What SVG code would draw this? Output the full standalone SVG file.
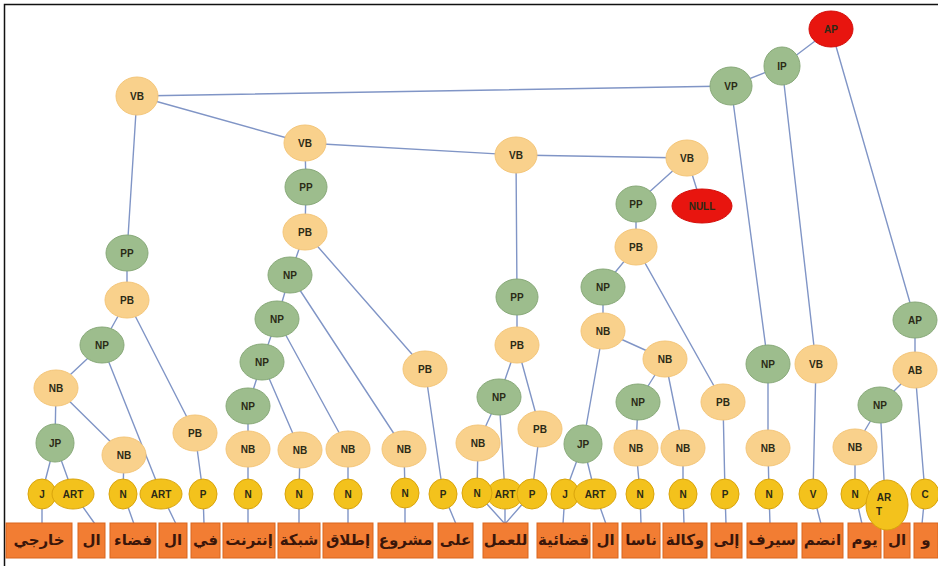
<svg xmlns="http://www.w3.org/2000/svg" width="938" height="572" viewBox="0 0 938 572">
<defs>
<style>
.o{fill:#F9D18C;stroke:#F4C67A;stroke-width:1}
.g{fill:#9DBD8D;stroke:#88A979;stroke-width:1}
.r{fill:#E8150F;stroke:#D40E0A;stroke-width:1}
.y{fill:#F3C21C;stroke:#D9A40C;stroke-width:1}
.t{font-family:"Liberation Sans",Arial,sans-serif;font-weight:bold;font-size:10px;text-anchor:middle;dominant-baseline:central;fill:#2B2A16}
.bx{fill:#F27D33;stroke:#D9661F;stroke-width:1}
.w{font-family:"DejaVu Sans",sans-serif;font-weight:bold;font-size:15px;text-anchor:middle;dominant-baseline:central;fill:#3A160A}
.e{stroke:#8095C6;stroke-width:1.4;fill:none}
</style>
</defs>
<rect width="938" height="572" fill="#FFFFFF"/>
<path d="M4.5 566V4.5H938" stroke="#111" stroke-width="1.5" fill="none"/>

<!-- connectors -->
<g id="connectors" class="e">
<path d="M831 29L782 66M831 29L915 320M782 66L731 86M782 66L816 364M731 86L137 96M731 86L768 364"/>
<path d="M137 96L305 143M137 96L127 253M305 143L516 155M516 155L687 158M516 155L517 297M687 158L636 204M687 158L702 206"/>
<path d="M305 143L306 187L305 232M636 204L636 247"/>
<!-- left branch -->
<path d="M127 253L127 300M127 300L102 345M127 300L195 433M102 345L56 388M102 345L161 493M56 388L55 443M56 388L124 455M55 443L42 493M55 443L73 493M124 455L123 493M195 433L203 493"/>
<!-- middle branch -->
<path d="M305 232L290 275M305 232L425 369M290 275L277 319M290 275L404 449M277 319L262 362M277 319L348 449M262 362L248 406M262 362L300 450M248 406L248 449M248 449L248 493M300 450L299 493M348 449L348 493M404 449L405 493M425 369L443 493"/>
<path d="M517 297L517 345M517 345L499 397M517 345L540 429M499 397L478 443M499 397L505 493M478 443L477 493M540 429L532 493"/>
<path d="M636 247L603 287M636 247L723 402M603 287L603 331M603 331L583 444M603 331L665 359M665 359L638 402M665 359L683 448M638 402L636 448M583 444L565 493M583 444L595 493M636 448L640 493M683 448L683 493M723 402L725 493"/>
<!-- right branch -->
<path d="M768 364L768 448L769 493M816 364L813 493M915 320L915 370M915 370L880 405M915 370L925 493M880 405L855 447M880 405L885 498M855 447L855 493"/>
<!-- leaf to word -->
<path d="M42 493L42 524M73 493L95 524M123 493L134 524M161 493L176 524M203 493L204 524M248 493L248 524M299 493L299 524M348 493L348 524M405 493L405 524M443 493L456 524M477 493L505 524M505 493L505 524M532 493L505 524M565 493L563 524M595 493L606 524M640 493L641 524M683 493L684 524M725 493L726 524M769 493L770 524M813 493L821 524M855 493L862 524M925 493L922 524"/>
</g>

<!-- words -->
<g id="words">
<g id="w1"><rect class="bx" x="6" y="523" width="66" height="35"/><text class="w" x="39" y="540">خارجي</text></g>
<g id="w2"><rect class="bx" x="78" y="523" width="27" height="35"/><text class="w" x="91.5" y="540">ال</text></g>
<g id="w3"><rect class="bx" x="110" y="523" width="46" height="35"/><text class="w" x="133" y="540">فضاء</text></g>
<g id="w4"><rect class="bx" x="159" y="523" width="28" height="35"/><text class="w" x="173" y="540">ال</text></g>
<g id="w5"><rect class="bx" x="191" y="523" width="29" height="35"/><text class="w" x="205.5" y="540">في</text></g>
<g id="w6"><rect class="bx" x="223" y="523" width="52" height="35"/><text class="w" x="249" y="540">إنترنت</text></g>
<g id="w7"><rect class="bx" x="278" y="523" width="42" height="35"/><text class="w" x="299" y="540">شبكة</text></g>
<g id="w8"><rect class="bx" x="323" y="523" width="50" height="35"/><text class="w" x="348" y="540">إطلاق</text></g>
<g id="w9"><rect class="bx" x="378" y="523" width="55" height="35"/><text class="w" x="405.5" y="540">مشروع</text></g>
<g id="w10"><rect class="bx" x="438" y="523" width="35" height="35"/><text class="w" x="455.5" y="540">على</text></g>
<g id="w11"><rect class="bx" x="483" y="523" width="45" height="35"/><text class="w" x="505.5" y="540">للعمل</text></g>
<g id="w12"><rect class="bx" x="537" y="523" width="53" height="35"/><text class="w" x="563.5" y="540">قضائية</text></g>
<g id="w13"><rect class="bx" x="593" y="523" width="25" height="35"/><text class="w" x="605.5" y="540">ال</text></g>
<g id="w14"><rect class="bx" x="622" y="523" width="38" height="35"/><text class="w" x="641" y="540">ناسا</text></g>
<g id="w15"><rect class="bx" x="663" y="523" width="44" height="35"/><text class="w" x="685" y="540">وكالة</text></g>
<g id="w16"><rect class="bx" x="711" y="523" width="31" height="35"/><text class="w" x="726.5" y="540">إلى</text></g>
<g id="w17"><rect class="bx" x="747" y="523" width="50" height="35"/><text class="w" x="772" y="540">سيرف</text></g>
<g id="w18"><rect class="bx" x="802" y="523" width="41" height="35"/><text class="w" x="822.5" y="540">انضم</text></g>
<g id="w19"><rect class="bx" x="848" y="523" width="33" height="35"/><text class="w" x="864.5" y="540">يوم</text></g>
<g id="w20"><rect class="bx" x="884" y="523" width="26" height="35"/><text class="w" x="897" y="540">ال</text></g>
<g id="w21"><rect class="bx" x="914" y="523" width="24" height="35"/><text class="w" x="926" y="540">و</text></g>
</g>

<!-- top-level nodes -->
<g id="n-ap-root"><ellipse class="r" cx="831" cy="29" rx="22" ry="18"/><text class="t" x="831" y="29">AP</text></g>
<g id="n-ip"><ellipse class="g" cx="782" cy="66" rx="18" ry="19"/><text class="t" x="782" y="66">IP</text></g>
<g id="n-vp"><ellipse class="g" cx="731" cy="86" rx="21" ry="19"/><text class="t" x="731" y="86">VP</text></g>
<g id="n-vb1"><ellipse class="o" cx="137" cy="96" rx="21" ry="19"/><text class="t" x="137" y="96">VB</text></g>
<g id="n-vb2"><ellipse class="o" cx="305" cy="143" rx="21" ry="18"/><text class="t" x="305" y="143">VB</text></g>
<g id="n-vb3"><ellipse class="o" cx="516" cy="155" rx="21" ry="18"/><text class="t" x="516" y="155">VB</text></g>
<g id="n-vb4"><ellipse class="o" cx="687" cy="158" rx="21" ry="18"/><text class="t" x="687" y="158">VB</text></g>
<g id="n-null"><ellipse class="r" cx="702" cy="206" rx="30" ry="17"/><text class="t" x="702" y="206">NULL</text></g>

<!-- left branch -->
<g id="n-pp1"><ellipse class="g" cx="127" cy="253" rx="21" ry="18"/><text class="t" x="127" y="253">PP</text></g>
<g id="n-pb1"><ellipse class="o" cx="127" cy="300" rx="22" ry="18"/><text class="t" x="127" y="300">PB</text></g>
<g id="n-np1"><ellipse class="g" cx="102" cy="345" rx="22" ry="18"/><text class="t" x="102" y="345">NP</text></g>
<g id="n-nb1"><ellipse class="o" cx="56" cy="388" rx="22" ry="18"/><text class="t" x="56" y="388">NB</text></g>
<g id="n-jp1"><ellipse class="g" cx="55" cy="443" rx="19" ry="19"/><text class="t" x="55" y="443">JP</text></g>
<g id="n-nb2"><ellipse class="o" cx="124" cy="455" rx="22" ry="18"/><text class="t" x="124" y="455">NB</text></g>
<g id="n-pb2"><ellipse class="o" cx="195" cy="433" rx="22" ry="18"/><text class="t" x="195" y="433">PB</text></g>

<!-- middle-left branch -->
<g id="n-pp2"><ellipse class="g" cx="306" cy="187" rx="21" ry="18"/><text class="t" x="306" y="187">PP</text></g>
<g id="n-pb3"><ellipse class="o" cx="305" cy="232" rx="22" ry="18"/><text class="t" x="305" y="232">PB</text></g>
<g id="n-np2"><ellipse class="g" cx="290" cy="275" rx="22" ry="18"/><text class="t" x="290" y="275">NP</text></g>
<g id="n-np3"><ellipse class="g" cx="277" cy="319" rx="22" ry="18"/><text class="t" x="277" y="319">NP</text></g>
<g id="n-np4"><ellipse class="g" cx="262" cy="362" rx="22" ry="18"/><text class="t" x="262" y="362">NP</text></g>
<g id="n-np5"><ellipse class="g" cx="248" cy="406" rx="22" ry="18"/><text class="t" x="248" y="406">NP</text></g>
<g id="n-nb3"><ellipse class="o" cx="248" cy="449" rx="22" ry="18"/><text class="t" x="248" y="449">NB</text></g>
<g id="n-nb4"><ellipse class="o" cx="300" cy="450" rx="22" ry="18"/><text class="t" x="300" y="450">NB</text></g>
<g id="n-nb5"><ellipse class="o" cx="348" cy="449" rx="22" ry="18"/><text class="t" x="348" y="449">NB</text></g>
<g id="n-nb6"><ellipse class="o" cx="404" cy="449" rx="22" ry="18"/><text class="t" x="404" y="449">NB</text></g>
<g id="n-pb4"><ellipse class="o" cx="425" cy="369" rx="22" ry="18"/><text class="t" x="425" y="369">PB</text></g>

<!-- middle branch -->
<g id="n-pp3"><ellipse class="g" cx="517" cy="297" rx="21" ry="18"/><text class="t" x="517" y="297">PP</text></g>
<g id="n-pb5"><ellipse class="o" cx="517" cy="345" rx="22" ry="18"/><text class="t" x="517" y="345">PB</text></g>
<g id="n-np6"><ellipse class="g" cx="499" cy="397" rx="22" ry="18"/><text class="t" x="499" y="397">NP</text></g>
<g id="n-nb7"><ellipse class="o" cx="478" cy="443" rx="22" ry="18"/><text class="t" x="478" y="443">NB</text></g>
<g id="n-pb6"><ellipse class="o" cx="540" cy="429" rx="22" ry="18"/><text class="t" x="540" y="429">PB</text></g>

<!-- middle-right branch -->
<g id="n-pp4"><ellipse class="g" cx="636" cy="204" rx="20" ry="18"/><text class="t" x="636" y="204">PP</text></g>
<g id="n-pb7"><ellipse class="o" cx="636" cy="247" rx="21" ry="18"/><text class="t" x="636" y="247">PB</text></g>
<g id="n-np7"><ellipse class="g" cx="603" cy="287" rx="22" ry="18"/><text class="t" x="603" y="287">NP</text></g>
<g id="n-nb8"><ellipse class="o" cx="603" cy="331" rx="22" ry="18"/><text class="t" x="603" y="331">NB</text></g>
<g id="n-nb9"><ellipse class="o" cx="665" cy="359" rx="22" ry="18"/><text class="t" x="665" y="359">NB</text></g>
<g id="n-np8"><ellipse class="g" cx="638" cy="402" rx="22" ry="18"/><text class="t" x="638" y="402">NP</text></g>
<g id="n-nb10"><ellipse class="o" cx="636" cy="448" rx="22" ry="18"/><text class="t" x="636" y="448">NB</text></g>
<g id="n-nb11"><ellipse class="o" cx="683" cy="448" rx="22" ry="18"/><text class="t" x="683" y="448">NB</text></g>
<g id="n-jp2"><ellipse class="g" cx="583" cy="444" rx="19" ry="19"/><text class="t" x="583" y="444">JP</text></g>
<g id="n-pb8"><ellipse class="o" cx="723" cy="402" rx="22" ry="18"/><text class="t" x="723" y="402">PB</text></g>

<!-- right branch -->
<g id="n-np9"><ellipse class="g" cx="768" cy="364" rx="22" ry="19"/><text class="t" x="768" y="364">NP</text></g>
<g id="n-nb12"><ellipse class="o" cx="768" cy="448" rx="22" ry="18"/><text class="t" x="768" y="448">NB</text></g>
<g id="n-vb5"><ellipse class="o" cx="816" cy="364" rx="21" ry="19"/><text class="t" x="816" y="364">VB</text></g>
<g id="n-ap"><ellipse class="g" cx="915" cy="320" rx="22" ry="18"/><text class="t" x="915" y="320">AP</text></g>
<g id="n-ab"><ellipse class="o" cx="915" cy="370" rx="22" ry="18"/><text class="t" x="915" y="370">AB</text></g>
<g id="n-np10"><ellipse class="g" cx="880" cy="405" rx="22" ry="18"/><text class="t" x="880" y="405">NP</text></g>
<g id="n-nb13"><ellipse class="o" cx="855" cy="447" rx="22" ry="18"/><text class="t" x="855" y="447">NB</text></g>

<!-- part-of-speech leaves -->
<g id="l1"><ellipse class="y" cx="42" cy="494" rx="14" ry="15"/><text class="t" x="42" y="494">J</text></g>
<g id="l2"><ellipse class="y" cx="73" cy="494" rx="21" ry="15"/><text class="t" x="73" y="494">ART</text></g>
<g id="l3"><ellipse class="y" cx="123" cy="494" rx="14" ry="15"/><text class="t" x="123" y="494">N</text></g>
<g id="l4"><ellipse class="y" cx="161" cy="494" rx="21" ry="15"/><text class="t" x="161" y="494">ART</text></g>
<g id="l5"><ellipse class="y" cx="203" cy="494" rx="14" ry="15"/><text class="t" x="203" y="494">P</text></g>
<g id="l6"><ellipse class="y" cx="248" cy="494" rx="14" ry="15"/><text class="t" x="248" y="494">N</text></g>
<g id="l7"><ellipse class="y" cx="299" cy="494" rx="14" ry="15"/><text class="t" x="299" y="494">N</text></g>
<g id="l8"><ellipse class="y" cx="348" cy="494" rx="14" ry="15"/><text class="t" x="348" y="494">N</text></g>
<g id="l9"><ellipse class="y" cx="405" cy="493" rx="14" ry="15"/><text class="t" x="405" y="493">N</text></g>
<g id="l10"><ellipse class="y" cx="443" cy="494" rx="14" ry="15"/><text class="t" x="443" y="494">P</text></g>
<g id="l12"><ellipse class="y" cx="505" cy="494" rx="18" ry="15"/><text class="t" x="505" y="494">ART</text></g>
<g id="l11"><ellipse class="y" cx="477" cy="493" rx="15" ry="15"/><text class="t" x="477" y="493">N</text></g>
<g id="l13"><ellipse class="y" cx="532" cy="494" rx="15" ry="15"/><text class="t" x="532" y="494">P</text></g>
<g id="l14"><ellipse class="y" cx="565" cy="494" rx="14" ry="15"/><text class="t" x="565" y="494">J</text></g>
<g id="l15"><ellipse class="y" cx="595" cy="494" rx="21" ry="15"/><text class="t" x="595" y="494">ART</text></g>
<g id="l16"><ellipse class="y" cx="640" cy="494" rx="14" ry="15"/><text class="t" x="640" y="494">N</text></g>
<g id="l17"><ellipse class="y" cx="683" cy="494" rx="14" ry="15"/><text class="t" x="683" y="494">N</text></g>
<g id="l18"><ellipse class="y" cx="725" cy="494" rx="14" ry="15"/><text class="t" x="725" y="494">P</text></g>
<g id="l19"><ellipse class="y" cx="769" cy="494" rx="14" ry="15"/><text class="t" x="769" y="494">N</text></g>
<g id="l20"><ellipse class="y" cx="813" cy="494" rx="14" ry="15"/><text class="t" x="813" y="494">V</text></g>
<g id="l21"><ellipse class="y" cx="855" cy="494" rx="14" ry="15"/><text class="t" x="855" y="494">N</text></g>
<g id="l22"><ellipse class="y" cx="887" cy="505" rx="21" ry="25"/><text class="t" x="884" y="497">AR</text><text class="t" x="879" y="511">T</text></g>
<g id="l23"><ellipse class="y" cx="925" cy="494" rx="14" ry="15"/><text class="t" x="925" y="494">C</text></g>
</svg>
